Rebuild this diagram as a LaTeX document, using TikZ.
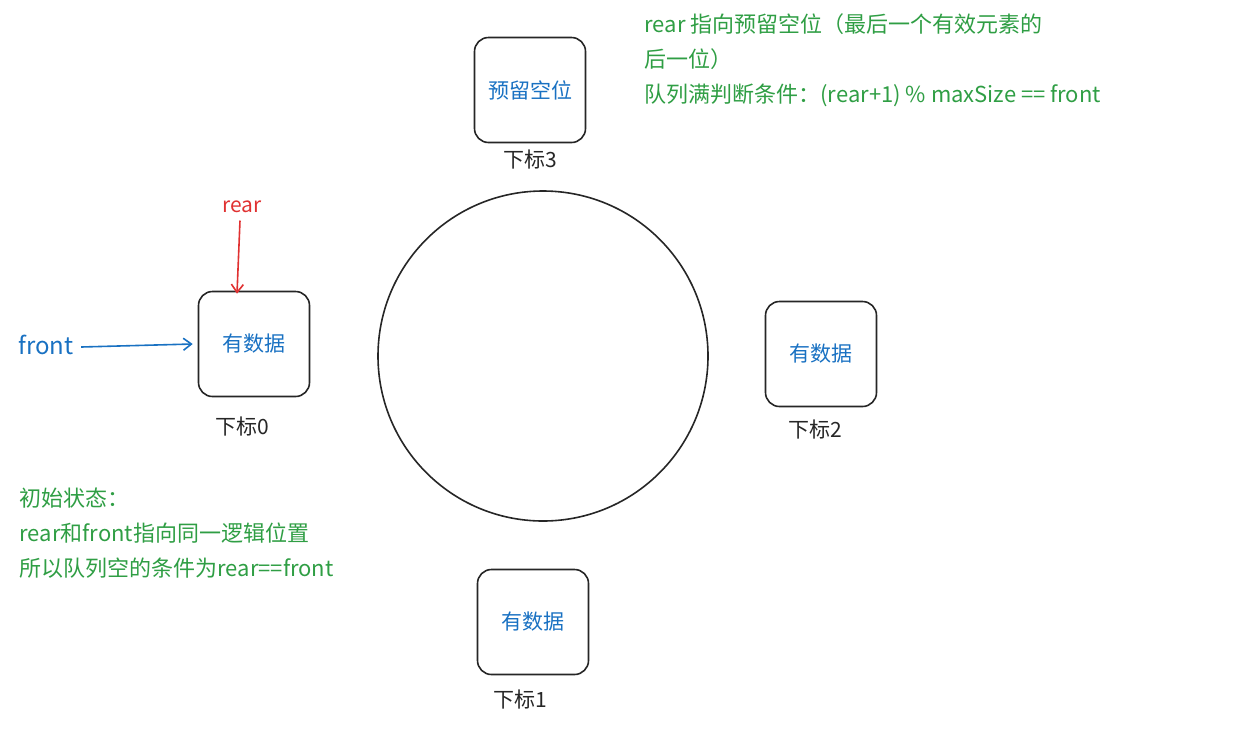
\documentclass[tikz,border=0pt]{standalone}
\usetikzlibrary{arrows.meta}
\usepackage{fontspec}
\setmainfont{Noto Sans CJK SC}
\definecolor{eblue}{HTML}{1971C2}
\definecolor{ered}{HTML}{E03131}
\definecolor{egreen}{HTML}{2F9E44}
\begin{document}
\begin{tikzpicture}[x=1pt,y=-1pt,
  box/.style={draw=black!85,line width=1.6pt,rounded corners=14pt,minimum width=111pt,minimum height=105pt,text=eblue,font=\fontsize{21}{24}\selectfont,inner sep=0pt},
  idx/.style={text=black!85,font=\fontsize{21}{24}\selectfont},
  note/.style={text=egreen,font=\fontsize{22}{35}\selectfont,align=left,anchor=north west},
  arr/.style={line width=1.6pt,-{Straight Barb[length=8pt,width=12pt]}}]
\useasboundingbox (0,0) rectangle (1260,729);
\node[draw=black!85,line width=1.6pt,circle,minimum size=330pt,inner sep=0pt] (c) at (543,356) {};
\node[box] (b3) at (530,90) {预留空位};
\node[idx] (i3) at (530,160) {下标3};
\node[box] (b0) at (254,344) {有数据};
\node[idx] (i0) at (242,426) {下标0};
\node[box] (b2) at (821,354) {有数据};
\node[idx] (i2) at (815,429) {下标2};
\node[box] (b1) at (533,622) {有数据};
\node[idx] (i1) at (520,699) {下标1};
\node[text=ered,font=\fontsize{21}{24}\selectfont] (rear) at (242,207) {rear};
\node[text=eblue,font=\fontsize{24}{24}\selectfont] (front) at (46,345) {front};
\draw[arr,ered] (rear.south) ++(-2,4) coordinate (rs) -- ([xshift=-17pt,yshift=-3pt]b0.north);
\draw[arr,eblue] (front.east) ++(4,2) coordinate (fs) -- ([xshift=-5pt,yshift=0pt]b0.west);
\node[note] (n1) at (641,10) {rear 指向预留空位（最后一个有效元素的\\后一位）\\队列满判断条件：(rear+1) \% maxSize == front};
\node[note] (n2) at (16,484) {初始状态：\\rear和front指向同一逻辑位置\\所以队列空的条件为rear==front};
\end{tikzpicture}
\end{document}
